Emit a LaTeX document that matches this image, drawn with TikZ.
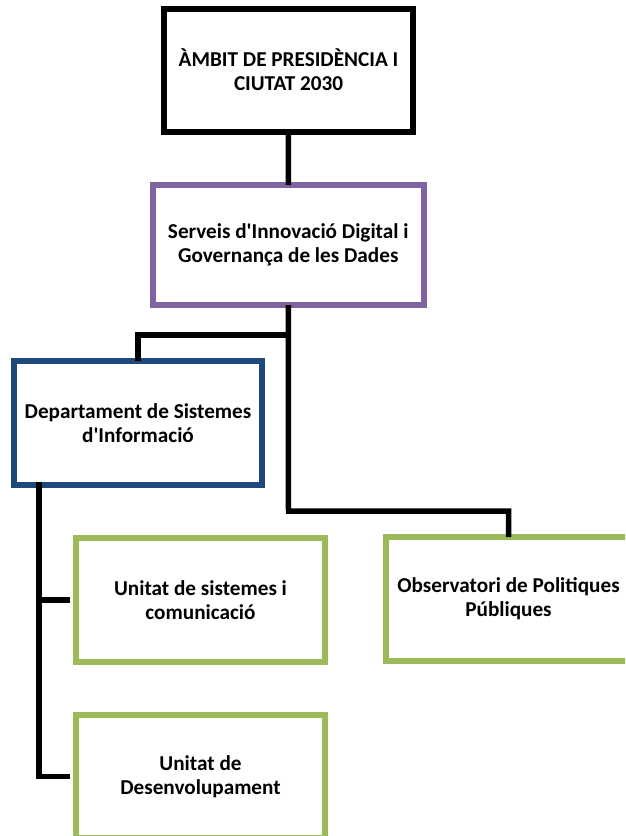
\documentclass[tikz,border=0pt]{standalone}
\usepackage{fontspec}
\newfontfamily\boxfont{Carlito}
\definecolor{cpurple}{HTML}{8064A2}
\definecolor{cblue}{HTML}{1F497D}
\definecolor{cgreen}{HTML}{9BBB59}
\begin{document}
\begin{tikzpicture}[x=1pt,y=-1pt,
  box/.style={draw,line width=6pt,fill=white,align=center,inner sep=0pt,
    font=\boxfont\bfseries\fontsize{21.2}{24}\selectfont},
  conn/.style={line width=5.5pt,draw=black}]
\useasboundingbox (0,0) rectangle (625,836);
\clip (0,0) rectangle (625,836);
\node[box,draw=black,minimum width=249pt,minimum height=123pt] (top) at (288.5,70)
  {ÀMBIT DE PRESIDÈNCIA I\\CIUTAT 2030};
\node[box,draw=cpurple,minimum width=271.5pt,minimum height=120pt] (serv) at (288.25,245)
  {Serveis d'Innovació Digital i\\Governança de les Dades};
\node[box,draw=cblue,minimum width=248pt,minimum height=124pt] (dept) at (138,423)
  {Departament de Sistemes\\d'Informació};
\node[box,draw=cgreen,minimum width=249pt,minimum height=124pt] (sist) at (200.5,600)
  {Unitat de sistemes i\\comunicació};
\node[box,draw=cgreen,minimum width=245pt,minimum height=124pt] (obs) at (508.5,599)
  {Observatori de Politiques\\Públiques};
\node[box,draw=cgreen,minimum width=249pt,minimum height=123pt] (des) at (200.5,776.5)
  {Unitat de\\Desenvolupament};
\coordinate (j0) at (288.5,335);
\coordinate (j1) at (288.5,511);
\coordinate (d0) at (39,485);
\draw[conn] ([yshift=3pt]top.south) -- ([yshift=-3pt]serv.north);
\draw[conn] ([yshift=3pt]serv.south) -- (j1) -| ([yshift=-3pt]obs.north);
\draw[conn] (j0) -| ([yshift=-3pt]dept.north);
\draw[conn] ([yshift=3pt]d0) |- ([xshift=-3pt]sist.west);
\draw[conn] ([yshift=3pt]d0) |- ([xshift=-3pt]des.west);
\end{tikzpicture}
\end{document}
